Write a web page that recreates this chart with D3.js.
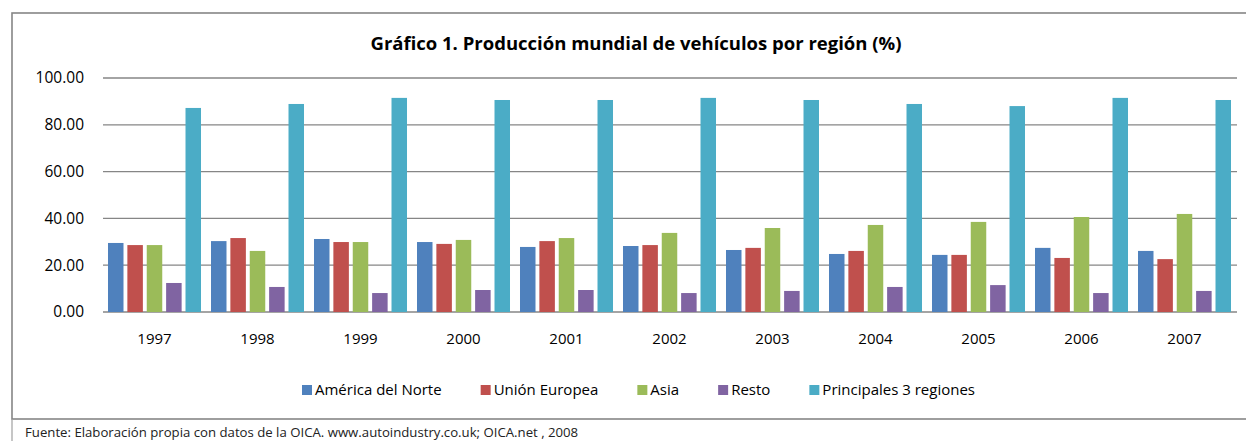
<!DOCTYPE html>
<meta charset="utf-8">
<title>Producción mundial de vehículos</title>
<style>
body {
  margin: 0;
  background: #fff;
  font-family: "Open Sans", sans-serif;
}
</style>
<body>
</body>
<script src="https://cdn.jsdelivr.net/npm/d3@7"></script>
<script>

var years = ["1997", "1998", "1999", "2000", "2001", "2002", "2003", "2004", "2005", "2006", "2007"];
var series = ["América del Norte", "Unión Europea", "Asia", "Resto", "Principales 3 regiones"];
var colors = ["#4f81bd", "#c0504d", "#9bbb59", "#8064a2", "#4bacc6"];

var norte     = [29.5, 30.3, 31.2, 29.9, 27.8, 28.2, 26.5, 24.8, 24.4, 27.4, 26.1];
var europa    = [28.6, 31.6, 29.9, 29.1, 30.3, 28.6, 27.4, 26.1, 24.4, 23.1, 22.6];
var asia      = [28.6, 26.1, 29.9, 30.8, 31.6, 33.8, 35.9, 37.2, 38.5, 40.6, 41.9];
var resto     = [12.4, 10.7, 8.1, 9.4, 9.4, 8.1, 9.0, 10.7, 11.5, 8.1, 9.0];
var principal = [87.2, 88.9, 91.5, 90.6, 90.6, 91.5, 90.6, 88.9, 88.0, 91.5, 90.6];
var values = [norte, europa, asia, resto, principal];

var yTicks = [0, 20, 40, 60, 80, 100];

var width = 1246,
    height = 441;

var svg = d3.select("body").append("svg")
    .attr("width", width)
    .attr("height", height);

// chart frame
svg.append("rect")
    .attr("x", 12).attr("y", 13)
    .attr("width", 1250).attr("height", 406)
    .attr("fill", "none")
    .attr("stroke", "#868686")
    .attr("stroke-width", 1.6);

// footer box edge
svg.append("line")
    .attr("x1", 12).attr("y1", 419).attr("x2", 12).attr("y2", 441)
    .attr("stroke", "#a0a0a0").attr("stroke-width", 1.2);

svg.append("text")
    .attr("x", 636).attr("y", 50)
    .attr("text-anchor", "middle")
    .attr("font-size", 18.5)
    .attr("font-weight", "bold")
    .attr("fill", "#000")
    .text("Gráfico 1. Producción mundial de vehículos por región (%)");

var x = d3.scaleBand()
    .domain(years)
    .range([103, 1236])
    .paddingInner(0.097)
    .paddingOuter(0.0485);

var xs = d3.scaleBand()
    .domain(d3.range(series.length))
    .range([0, x.bandwidth()])
    .paddingInner(0.2);

var y = d3.scaleLinear()
    .domain([0, 100])
    .range([312, 78]);

// gridlines
svg.append("g")
    .selectAll("line")
    .data(yTicks)
    .join("line")
    .attr("x1", 103).attr("x2", 1237)
    .attr("y1", d => y(d)).attr("y2", d => y(d))
    .attr("stroke", "#868686")
    .attr("stroke-width", 1.3);

// y axis labels
var yAxis = svg.append("g")
    .attr("transform", "translate(103,0)")
    .call(d3.axisLeft(y).tickValues(yTicks).tickFormat(d3.format(".2f")).tickSize(0).tickPadding(19));
yAxis.select(".domain").remove();
yAxis.selectAll("text")
    .attr("font-family", "'Open Sans', sans-serif")
    .attr("font-size", 15.5)
    .attr("fill", "#000");

// bars
var groups = svg.append("g")
    .selectAll("g")
    .data(years)
    .join("g")
    .attr("transform", d => "translate(" + x(d) + ",0)");

groups.selectAll("rect")
    .data((d, i) => values.map((v, s) => ({s: s, v: v[i]})))
    .join("rect")
    .attr("x", d => xs(d.s))
    .attr("width", xs.bandwidth())
    .attr("y", d => y(d.v))
    .attr("height", d => y(0) - y(d.v))
    .attr("fill", d => colors[d.s]);

// x axis labels
var xAxis = svg.append("g")
    .attr("transform", "translate(0,312)")
    .call(d3.axisBottom(x).tickSize(0).tickPadding(21));
xAxis.select(".domain").remove();
xAxis.selectAll("text")
    .attr("font-family", "'Open Sans', sans-serif")
    .attr("font-size", 15)
    .attr("fill", "#000");

// legend: measure items, then spread them centred under the plot
var legend = svg.append("g")
    .selectAll("g")
    .data(series)
    .join("g");
legend.append("rect")
    .attr("x", 0).attr("y", -10)
    .attr("width", 10).attr("height", 10)
    .attr("fill", (d, i) => colors[i]);
legend.append("text")
    .attr("x", 13).attr("y", 0)
    .attr("font-size", 15)
    .attr("fill", "#000")
    .text(d => d);

var itemW = [];
legend.each(function() { itemW.push(this.getBBox().width); });
var legendLeft = 302, legendRight = 975;
var gap = (legendRight - legendLeft - d3.sum(itemW)) / (series.length - 1);
var pos = legendLeft;
legend.attr("transform", function(d, i) {
  var t = "translate(" + pos + ",395)";
  pos += itemW[i] + gap;
  return t;
});

// source note
svg.append("text")
    .attr("x", 25).attr("y", 437)
    .attr("font-size", 13.2)
    .attr("fill", "#222")
    .text("Fuente: Elaboración propia con datos de la OICA. www.autoindustry.co.uk; OICA.net , 2008");

</script>
